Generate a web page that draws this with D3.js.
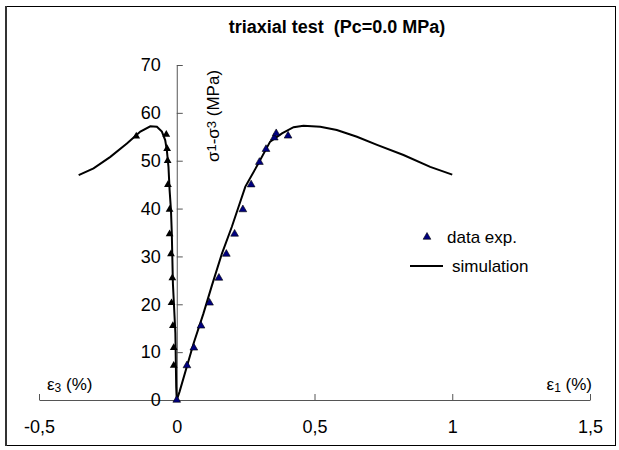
<!DOCTYPE html>
<html>
<head>
<meta charset="utf-8">
<script src="https://cdn.jsdelivr.net/npm/d3@7"></script>
<style>
  body { margin: 0; background: #fff; }
  text { font-family: "Liberation Sans", Arial, sans-serif; }
</style>
</head>
<body>
<svg id="chart" width="619" height="450"></svg>
<script>
const xTicks = [-0.5, 0, 0.5, 1, 1.5];
const yTicks = [0, 10, 20, 30, 40, 50, 60, 70];

// simulation, axial side (eps1 %, deviator MPa)
const simAxialEps = [0, 0.01, 0.061, 0.097, 0.128, 0.164, 0.2, 0.249, 0.297, 0.339, 0.382, 0.424, 0.46, 0.521, 0.581, 0.654, 0.727, 0.823, 0.92, 1.0];
const simAxialQ   = [0, 1.7, 11.8, 18.1, 24.0, 30.6, 36.2, 44.6, 49.5, 54.0, 55.7, 57.0, 57.3, 57.1, 56.4, 55.0, 53.3, 51.2, 48.7, 47.1];

// simulation, lateral side (eps3 %)
const simLatEps = [0, -0.002, -0.005, -0.014, -0.018, -0.021, -0.026, -0.03, -0.036, -0.042, -0.054, -0.072, -0.096, -0.132, -0.181, -0.241, -0.302, -0.356];
const simLatQ   = [0, 2.8, 14, 24.4, 34.9, 39.7, 43.9, 48.7, 52.2, 54.3, 56.1, 57.1, 57.2, 56.1, 53.6, 50.8, 48.4, 47.0];

// experimental points
const expAxialEps = [0, 0.037, 0.062, 0.088, 0.119, 0.153, 0.18, 0.21, 0.24, 0.27, 0.30, 0.324, 0.354, 0.361, 0.404];
const expAxialQ   = [0, 7.2, 10.9, 15.5, 20.3, 25.5, 30.5, 34.7, 39.8, 45.0, 49.7, 52.4, 54.8, 55.7, 55.2];
const expLatEps = [-0.011, -0.011, -0.014, -0.019, -0.016, -0.021, -0.026, -0.026, -0.032, -0.033, -0.035, -0.038, -0.147];
const expLatQ   = [7.2, 10.9, 15.5, 20.3, 25.5, 30.5, 34.7, 39.8, 45.0, 50.0, 52.5, 55.5, 55.1];

const svg = d3.select('#chart');

// frame
svg.append('rect')
  .attr('x', 5.5).attr('y', 6.5)
  .attr('width', 610).attr('height', 439)
  .attr('fill', 'none').attr('stroke', '#000').attr('stroke-width', 1);
svg.append('line')
  .attr('x1', 6).attr('x2', 6).attr('y1', 6).attr('y2', 446)
  .attr('stroke', '#333').attr('stroke-width', 2);

const x = d3.scaleLinear().domain([-0.5, 1.5]).range([39, 590]);
const y = d3.scaleLinear().domain([0, 70]).range([400, 65]);

// title
svg.append('text')
  .attr('x', 337).attr('y', 33)
  .attr('text-anchor', 'middle')
  .attr('font-size', 18).attr('font-weight', 'bold')
  .style('white-space', 'pre')
  .text('triaxial test  (Pc=0.0 MPa)');

// axes
const xAxis = d3.axisBottom(x)
  .tickValues(xTicks)
  .tickSizeInner(-6)
  .tickSizeOuter(0)
  .tickPadding(20)
  .tickFormat(d => String(d).replace('.', ','));

const gx = svg.append('g')
  .attr('transform', `translate(0,${y(0)})`)
  .call(xAxis);

const yAxis = d3.axisLeft(y)
  .tickValues(yTicks)
  .tickSizeInner(-6)
  .tickSizeOuter(0)
  .tickPadding(16);

const gy = svg.append('g')
  .attr('transform', `translate(${x(0)},0)`)
  .call(yAxis);

[gx, gy].forEach(g => {
  g.attr('font-size', 18).attr('font-family', '"Liberation Sans", Arial, sans-serif');
  g.selectAll('path, line').attr('stroke', '#555');
  g.selectAll('text').attr('fill', '#000');
});

// axis titles
const yTitle = svg.append('text')
  .attr('transform', 'translate(213,116) rotate(-90)')
  .attr('text-anchor', 'middle')
  .attr('dominant-baseline', 'central')
  .attr('font-size', 17);
yTitle.append('tspan').text('σ');
yTitle.append('tspan').attr('font-size', 13).attr('dy', -2).text('1');
yTitle.append('tspan').attr('dy', 2).text('-σ');
yTitle.append('tspan').attr('font-size', 13).attr('dy', -2).text('3');
yTitle.append('tspan').attr('dy', 2).text(' (MPa)');

const e3 = svg.append('text').attr('x', 47).attr('y', 390).attr('font-size', 17);
e3.append('tspan').text('ε');
e3.append('tspan').attr('font-size', 12).attr('dy', 2).text('3');
e3.append('tspan').attr('dy', -2).text(' (%)');

const e1 = svg.append('text').attr('x', 592).attr('y', 390).attr('font-size', 17)
  .attr('text-anchor', 'end');
e1.append('tspan').text('ε');
e1.append('tspan').attr('font-size', 12).attr('dy', 2).text('1');
e1.append('tspan').attr('dy', -2).text(' (%)');

// simulation curves
const line = d3.line().x(d => x(d[0])).y(d => y(d[1]));
const simAxial = d3.zip(simAxialEps, simAxialQ);
const simLat = d3.zip(simLatEps, simLatQ);

svg.selectAll('path.sim')
  .data([simAxial, simLat])
  .join('path')
  .attr('class', 'sim')
  .attr('d', line)
  .attr('fill', 'none')
  .attr('stroke', '#000')
  .attr('stroke-width', 2);

// experimental triangles
const tri = d3.symbol().type(d3.symbolTriangle).size(26);

svg.selectAll('path.lat')
  .data(d3.zip(expLatEps, expLatQ))
  .join('path')
  .attr('class', 'lat')
  .attr('d', tri)
  .attr('transform', d => `translate(${x(d[0])},${y(d[1])})`)
  .attr('fill', '#000');

svg.selectAll('path.ax')
  .data(d3.zip(expAxialEps, expAxialQ))
  .join('path')
  .attr('class', 'ax')
  .attr('d', tri)
  .attr('transform', d => `translate(${x(d[0])},${y(d[1])})`)
  .attr('fill', '#000080')
  .attr('stroke', '#000')
  .attr('stroke-width', 0.6);

// legend
const legend = svg.append('g').attr('font-size', 17);
legend.append('path')
  .attr('d', tri)
  .attr('transform', 'translate(427,237)')
  .attr('fill', '#000080').attr('stroke', '#000').attr('stroke-width', 0.6);
legend.append('text').attr('x', 447).attr('y', 243).text('data exp.');
legend.append('line')
  .attr('x1', 410).attr('x2', 443).attr('y1', 266).attr('y2', 266)
  .attr('stroke', '#000').attr('stroke-width', 2);
legend.append('text').attr('x', 452).attr('y', 272).text('simulation');
</script>
</body>
</html>
